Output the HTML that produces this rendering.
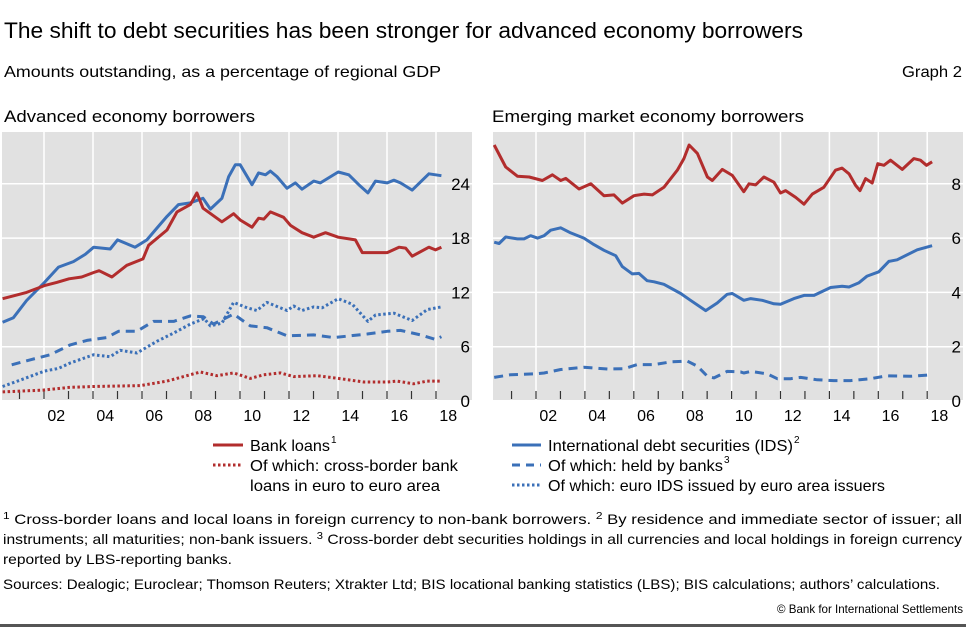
<!DOCTYPE html>
<html><head><meta charset="utf-8"><style>
html,body{margin:0;padding:0;background:#fff;}
svg{display:block;font-family:"Liberation Sans",sans-serif;}
</style></head><body>
<svg id="root" width="966" height="627" viewBox="0 0 966 627" xmlns="http://www.w3.org/2000/svg">
<text x="4" y="38" font-size="22" fill="#000" textLength="799" lengthAdjust="spacingAndGlyphs">The shift to debt securities has been stronger for advanced economy borrowers</text>
<text x="4" y="77" font-size="16" fill="#000" textLength="437" lengthAdjust="spacingAndGlyphs">Amounts outstanding, as a percentage of regional GDP</text>
<text x="962" y="77" font-size="16" fill="#000" text-anchor="end" textLength="60" lengthAdjust="spacingAndGlyphs">Graph 2</text>
<text x="4" y="122" font-size="17" fill="#000" textLength="251" lengthAdjust="spacingAndGlyphs">Advanced economy borrowers</text>
<text x="492" y="122" font-size="17" fill="#000" textLength="312" lengthAdjust="spacingAndGlyphs">Emerging market economy borrowers</text>
<defs>
<clipPath id="clipL"><rect x="2" y="132" width="470" height="268"/></clipPath>
<clipPath id="clipR"><rect x="493" y="132" width="470" height="268"/></clipPath>
</defs>
<rect x="2" y="132" width="470" height="268" fill="#e1e1e1"/>
<rect x="493" y="132" width="470" height="268" fill="#e1e1e1"/>
<g id="gL"></g><g id="gR"></g>
<g>
<line x1="213" y1="445" x2="243" y2="445" stroke="#b22d2d" stroke-width="3"/>
<text x="250" y="451" font-size="16" textLength="80" lengthAdjust="spacingAndGlyphs">Bank loans</text>
<text x="331" y="443" font-size="10">1</text>
<line x1="213" y1="465" x2="243" y2="465" stroke="#b22d2d" stroke-width="3" stroke-dasharray="2.5,2.5"/>
<text x="250" y="471" font-size="16" textLength="208" lengthAdjust="spacingAndGlyphs">Of which: cross-border bank</text>
<text x="250" y="491" font-size="16" textLength="190" lengthAdjust="spacingAndGlyphs">loans in euro to euro area</text>
<line x1="512" y1="445" x2="541" y2="445" stroke="#3b70b8" stroke-width="3"/>
<text x="548" y="451" font-size="16" textLength="245" lengthAdjust="spacingAndGlyphs">International debt securities (IDS)</text>
<text x="794" y="443" font-size="10">2</text>
<line x1="512" y1="465" x2="541" y2="465" stroke="#3b70b8" stroke-width="3" stroke-dasharray="8,6"/>
<text x="548" y="471" font-size="16" textLength="175" lengthAdjust="spacingAndGlyphs">Of which: held by banks</text>
<text x="724" y="463" font-size="10">3</text>
<line x1="512" y1="485" x2="541" y2="485" stroke="#3b70b8" stroke-width="3" stroke-dasharray="2.5,2.5"/>
<text x="548" y="491" font-size="16" textLength="337" lengthAdjust="spacingAndGlyphs">Of which: euro IDS issued by euro area issuers</text>
</g>
<g font-size="14" fill="#000">
<text x="3" y="524" textLength="959" lengthAdjust="spacingAndGlyphs"><tspan font-size="10" dy="-5">1</tspan><tspan dy="5">  Cross-border loans and local loans in foreign currency to non-bank borrowers.      </tspan><tspan font-size="10" dy="-5">2</tspan><tspan dy="5">  By residence and immediate sector of issuer; all</tspan></text>
<text x="3" y="544" textLength="959" lengthAdjust="spacingAndGlyphs">instruments; all maturities; non-bank issuers.    <tspan font-size="10" dy="-5">3</tspan><tspan dy="5">  Cross-border debt securities holdings in all currencies and local holdings in foreign currency</tspan></text>
<text x="3" y="564" textLength="229" lengthAdjust="spacingAndGlyphs">reported by LBS-reporting banks.</text>
<text x="3" y="589" textLength="937" lengthAdjust="spacingAndGlyphs">Sources: Dealogic; Euroclear; Thomson Reuters; Xtrakter Ltd; BIS locational banking statistics (LBS); BIS calculations; authors’ calculations.</text>
<text x="963" y="613" font-size="12" text-anchor="end" textLength="186" lengthAdjust="spacingAndGlyphs">© Bank for International Settlements</text>
</g>
<rect x="0" y="624" width="966" height="3" fill="#555"/>
</svg>
<script>
const yearTicks = [2002,2004,2006,2008,2010,2012,2014,2016,2018];
const yearLabels = ["02","04","06","08","10","12","14","16","18"];
const leftYTicks = [0,6,12,18,24];
const rightYTicks = [0,2,4,6,8];
const advBankLoansYears = [2000.31,2001.29,2002.02,2002.52,2003.02,2003.54,2004.03,2004.25,2004.77,2005.38,2006.04,2006.27,2007.02,2007.43,2007.97,2008.24,2008.49,2009.26,2009.74,2010.01,2010.49,2010.76,2010.97,2011.24,2011.78,2012.06,2012.53,2013.01,2013.49,2014.01,2014.71,2014.99,2016.01,2016.49,2016.76,2017.03,2017.71,2017.98,2018.22];
const advBankLoans = [11.3,12.0,12.75,13.1,13.5,13.7,14.2,14.4,13.7,15.0,15.7,17.2,18.9,20.9,21.7,23.0,21.3,19.8,20.7,20.0,19.2,20.2,20.1,20.9,20.3,19.4,18.6,18.1,18.6,18.1,17.8,16.4,16.4,17.0,16.9,16.0,17.0,16.7,17.0];
const advIDSYears = [2000.31,2000.75,2001.29,2002.02,2002.59,2003.2,2003.68,2004.03,2004.7,2005.0,2005.72,2006.2,2006.61,2007.02,2007.49,2007.97,2008.49,2008.79,2009.26,2009.54,2009.81,2010.01,2010.49,2010.76,2011.04,2011.24,2011.51,2011.92,2012.26,2012.53,2013.01,2013.28,2014.01,2014.44,2014.85,2015.22,2015.53,2016.01,2016.28,2016.55,2017.03,2017.71,2018.22];
const advIDS = [8.7,9.2,11.1,13.1,14.8,15.4,16.2,17.0,16.8,17.8,17.0,17.8,19.1,20.4,21.7,21.9,22.4,21.2,22.4,24.8,26.1,26.1,23.9,25.2,25.0,25.4,24.8,23.5,24.1,23.4,24.3,24.1,25.3,25.0,23.9,23.0,24.3,24.1,24.4,24.1,23.3,25.1,24.9];
const advHeldYears = [2000.68,2001.5,2002.25,2003.07,2003.75,2004.56,2005.04,2005.79,2006.47,2007.29,2007.97,2008.51,2008.92,2009.74,2010.42,2011.1,2011.92,2013.01,2013.83,2014.51,2015.19,2016.01,2016.55,2017.37,2017.98,2018.22];
const advHeld = [4.0,4.6,5.1,6.2,6.7,7.0,7.7,7.7,8.8,8.8,9.4,9.3,8.5,9.6,8.3,8.1,7.2,7.3,7.0,7.2,7.4,7.7,7.8,7.3,6.8,7.1];
const advEuroIDSYears = [2000.31,2001.02,2002.02,2002.59,2003.07,2004.02,2004.7,2005.11,2005.79,2006.61,2007.29,2007.97,2008.54,2008.79,2009.26,2009.74,2010.29,2010.69,2011.1,2011.92,2012.19,2012.53,2013.01,2013.35,2014.01,2014.58,2015.22,2015.53,2016.28,2017.03,2017.64,2018.22];
const advEuroIDS = [1.6,2.3,3.3,3.6,4.2,5.1,4.9,5.6,5.3,6.6,7.5,8.5,9.1,8.3,8.6,10.9,10.3,10.0,10.9,10.0,10.5,10.0,10.4,10.3,11.3,10.7,8.8,9.5,9.7,8.9,10.1,10.4];
const advCrossYears = [2000.31,2001.97,2003.02,2004.03,2005.93,2007.02,2008.38,2009.06,2009.74,2010.42,2010.97,2011.65,2012.19,2013.15,2014.01,2015.05,2016.01,2016.41,2017.09,2017.64,2018.22];
const advCross = [1.0,1.2,1.5,1.6,1.7,2.2,3.2,2.8,3.1,2.5,2.9,3.1,2.7,2.8,2.5,2.1,2.1,2.2,1.9,2.2,2.2];
const emeBankLoansYears = [2000.29,2000.76,2001.24,2001.72,2002.26,2002.67,2003.01,2003.22,2003.76,2004.24,2004.78,2005.19,2005.53,2006.01,2006.42,2006.76,2007.23,2007.78,2008.05,2008.26,2008.6,2009.01,2009.21,2009.62,2010.03,2010.5,2010.71,2010.98,2011.32,2011.73,2012.0,2012.21,2012.62,2012.96,2013.3,2013.77,2014.25,2014.52,2014.8,2015.07,2015.25,2015.48,2015.75,2015.98,2016.23,2016.5,2016.98,2017.45,2017.72,2017.97,2018.2];
const emeBankLoans = [9.43,8.62,8.28,8.25,8.12,8.33,8.12,8.2,7.81,8.0,7.56,7.59,7.29,7.56,7.62,7.59,7.87,8.5,8.93,9.43,9.12,8.25,8.12,8.53,8.31,7.71,8.0,7.96,8.25,8.06,7.66,7.75,7.5,7.25,7.62,7.87,8.5,8.58,8.37,7.94,7.75,8.19,8.03,8.74,8.68,8.87,8.53,8.93,8.87,8.68,8.81];
const emeIDSYears = [2000.29,2000.49,2000.76,2001.24,2001.51,2001.78,2002.06,2002.33,2002.6,2003.01,2003.42,2003.96,2004.37,2004.78,2005.26,2005.53,2005.94,2006.21,2006.55,2006.83,2007.23,2007.92,2008.32,2008.94,2009.41,2009.82,2010.03,2010.5,2010.78,2011.25,2011.73,2012.0,2012.55,2012.96,2013.37,2014.05,2014.52,2014.8,2015.2,2015.54,2016.02,2016.43,2016.77,2017.59,2018.2];
const emeIDS = [5.85,5.8,6.04,5.97,5.97,6.09,6.0,6.09,6.29,6.38,6.19,6.0,5.76,5.55,5.35,4.95,4.68,4.7,4.43,4.39,4.3,3.96,3.71,3.33,3.61,3.93,3.96,3.71,3.77,3.71,3.58,3.56,3.77,3.89,3.89,4.18,4.23,4.2,4.35,4.6,4.76,5.14,5.2,5.57,5.72];
const emeHeldYears = [2000.29,2000.97,2001.92,2002.33,2003.01,2003.96,2004.92,2005.6,2006.14,2006.83,2007.51,2008.19,2008.6,2009.01,2009.28,2009.82,2010.37,2010.5,2010.78,2011.46,2011.87,2012.41,2012.82,2013.5,2014.18,2014.86,2015.68,2016.36,2017.32,2018.2];
const emeHeld = [0.87,0.97,1.0,1.03,1.16,1.24,1.18,1.19,1.34,1.34,1.44,1.47,1.28,0.91,0.85,1.09,1.07,1.03,1.09,1.0,0.82,0.82,0.87,0.78,0.75,0.75,0.82,0.93,0.91,0.97];

const NS="http://www.w3.org/2000/svg";
const RED="#b22d2d", BLUE="#3b70b8";
function mk(tag, attrs, parent){const e=document.createElementNS(NS,tag);for(const k in attrs)e.setAttribute(k,attrs[k]);parent.appendChild(e);return e;}
const panels = {
  L:{g:document.getElementById('gL'), x0:44, dx:24.5, pxPerUnit:54.3/6, ticks:leftYTicks, labX:470, clip:'clipL', left:2, right:472},
  R:{g:document.getElementById('gR'), x0:536, dx:24.45, pxPerUnit:27.15, ticks:rightYTicks, labX:961, clip:'clipR', left:493, right:963}
};
function xs(p,yr){return p.x0+(yr-2002)*p.dx;}
function ys(p,v){return 401-v*p.pxPerUnit;}
function drawPanel(key,name){
  const p=panels[key];
  for(const v of p.ticks){
    if(v>0){const gl=mk('line',{x1:p.left,x2:p.right,y1:ys(p,v),y2:ys(p,v),stroke:'#fff','stroke-width':1.5},p.g);
      
      }
    const t=mk('text',{x:p.labX,y:ys(p,v)+6,'font-size':17,'text-anchor':'end',fill:'#000'},p.g);
    t.textContent=String(v);
    
    
  }
  for(let i=0;i<yearTicks.length;i++){
    const x=xs(p,yearTicks[i]);
    const gl=mk('line',{x1:x,x2:x,y1:132,y2:400,stroke:'#fff','stroke-width':1.5},p.g);
    
    
    const t=mk('text',{x:x+p.dx/2,y:421,'font-size':16,'text-anchor':'middle',fill:'#000'},p.g);
    t.textContent=yearLabels[i];
    
    
  }
  for(let yr=2001;yr<=2018;yr++){
    const x=xs(p,yr);
    const tk=mk('line',{x1:x,x2:x,y1:391,y2:399,stroke:'#333','stroke-width':1.2},p.g);
    
    
  }
}
function drawSeries(key,years,vals,color,dash,name){
  const p=panels[key];
  const d=years.map((yr,i)=>(i?'L':'M')+xs(p,yr).toFixed(1)+','+ys(p,vals[i]).toFixed(1)).join(' ');
  const path=mk('path',{d:d,fill:'none',stroke:color,'stroke-width':3,'stroke-linejoin':'round','clip-path':'url(#'+p.clip+')'},p.g);
  if(dash)path.setAttribute('stroke-dasharray',dash);
  
  
}
drawPanel('L','left');
drawPanel('R','right');
drawSeries('L',advCrossYears,advCross,RED,'2.5,2.5','adv-cross-border-loans-line');
drawSeries('L',advEuroIDSYears,advEuroIDS,BLUE,'2.5,2.5','adv-euro-ids-line');
drawSeries('L',advHeldYears,advHeld,BLUE,'9,6','adv-held-by-banks-line');
drawSeries('L',advIDSYears,advIDS,BLUE,null,'adv-ids-line');
drawSeries('L',advBankLoansYears,advBankLoans,RED,null,'adv-bank-loans-line');
drawSeries('R',emeHeldYears,emeHeld,BLUE,'9,6','eme-held-by-banks-line');
drawSeries('R',emeIDSYears,emeIDS,BLUE,null,'eme-ids-line');
drawSeries('R',emeBankLoansYears,emeBankLoans,RED,null,'eme-bank-loans-line');
</script>
</body></html>
